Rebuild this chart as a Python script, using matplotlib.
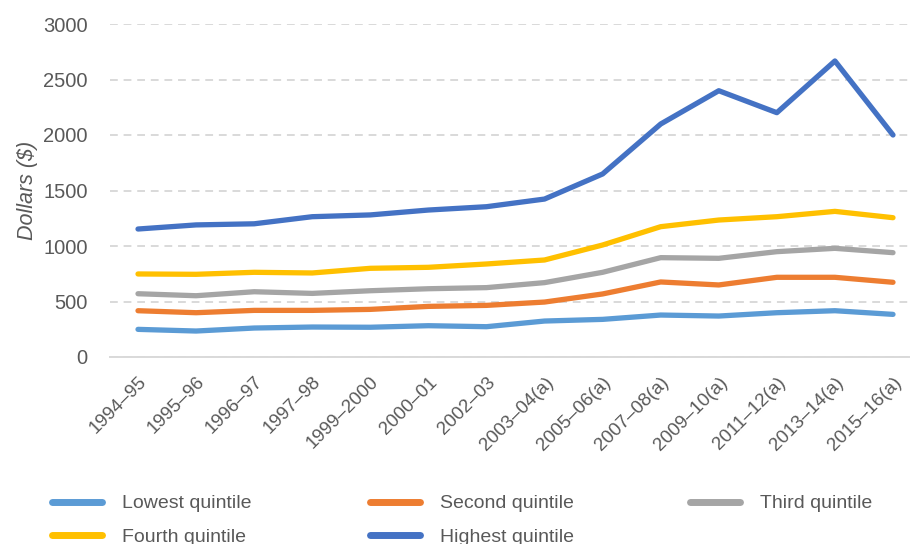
import matplotlib
matplotlib.use('Agg')
import matplotlib.pyplot as plt
from matplotlib import font_manager

# pick a narrow sans if there is one, the original looks like Arial Narrow
fam = 'Liberation Sans'
try:
    font_manager.findfont('Liberation Sans Narrow', fallback_to_default=False)
    fam = 'Liberation Sans Narrow'
except Exception:
    pass
plt.rcParams['font.family'] = [fam, 'DejaVu Sans']

years = ['1994–95', '1995–96', '1996–97', '1997–98', '1999–2000', '2000–01', '2002–03',
         '2003–04(a)', '2005–06(a)', '2007–08(a)', '2009–10(a)', '2011–12(a)', '2013–14(a)', '2015–16(a)']

lowest = [249, 234, 261, 270, 268, 282, 273, 324, 339, 378, 369, 399, 417, 384]
second = [417, 399, 420, 420, 429, 456, 465, 495, 568, 676, 649, 718, 718, 673]
third = [570, 552, 588, 573, 597, 615, 625, 670, 763, 895, 889, 949, 979, 940]
fourth = [748, 745, 763, 757, 799, 808, 838, 874, 1009, 1174, 1234, 1264, 1312, 1255]
highest = [1153, 1190, 1200, 1264, 1280, 1324, 1354, 1423, 1649, 2099, 2399, 2201, 2667, 2000]

series = [('Lowest quintile', lowest, '#5B9BD5'),
          ('Second quintile', second, '#ED7D31'),
          ('Third quintile', third, '#A5A5A5'),
          ('Fourth quintile', fourth, '#FFC000'),
          ('Highest quintile', highest, '#4472C4')]

txtcol = '#595959'
big = 17 if fam.endswith('Narrow') else 14.5

fig = plt.figure(figsize=(9.1, 5.44), dpi=100)
ax = fig.add_axes([110/910, 1-357/544, 1-110/910, (357-24)/544])

x = list(range(len(years)))
lines = {}
for name, vals, col in series:
    lines[name], = ax.plot(x, vals, color=col, lw=3.8, solid_capstyle='round',
                           solid_joinstyle='round', label=name)

ax.set_ylim(0, 3000)
ax.set_yticks(range(0, 3001, 500))
ax.set_xlim(-28/58.08, 13 + 17/58.08)
ax.set_xticks(x)
ax.set_xticklabels(years, rotation=45, ha='right', va='top', rotation_mode='anchor')

ax.grid(axis='y', color='#D9D9D9', linestyle=(0, (4, 3)), lw=1.4)
ax.set_axisbelow(True)
for s in ['left', 'right', 'top']:
    ax.spines[s].set_visible(False)
ax.spines['bottom'].set_color('#D9D9D9')
ax.spines['bottom'].set_linewidth(1.4)
ax.tick_params(axis='y', length=0, pad=16, labelsize=big, labelcolor=txtcol)
ax.tick_params(axis='x', length=0, pad=12, labelsize=big - 1, labelcolor=txtcol)

ax.set_ylabel('Dollars ($)', fontsize=big + 1, style='italic', color=txtcol, labelpad=4)

# legend laid out like Excel: three equal columns, filled row by row
cols = [['Lowest quintile', 'Fourth quintile'],
        ['Second quintile', 'Highest quintile'],
        ['Third quintile']]
col_x = [42, 360, 680]
for names, cx in zip(cols, col_x):
    leg = fig.legend([lines[n] for n in names], names, loc='upper left',
                     bbox_to_anchor=(cx/910, 1-485/544), frameon=False, borderpad=0,
                     fontsize=big - 0.5, handlelength=2.6, handletextpad=1.0,
                     labelspacing=0.8, labelcolor=txtcol)
    for h in leg.get_lines():
        h.set_linewidth(5)
        h.set_solid_capstyle('round')

fig.savefig('out.png', dpi=100)
